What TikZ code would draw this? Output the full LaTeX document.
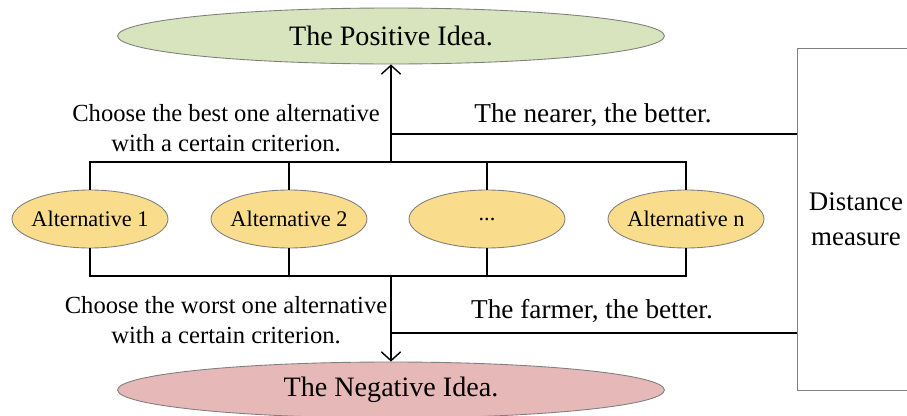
\documentclass[tikz,border=0pt]{standalone}
\usepackage{fontspec}
\setmainfont{Liberation Serif}
\usetikzlibrary{calc, shapes, arrows.meta}

\definecolor{posgreen}{HTML}{D7E4BD}
\definecolor{altyellow}{HTML}{FADD8C}
\definecolor{negpink}{HTML}{E6B9B8}
\definecolor{edgegrey}{HTML}{7F7F7F}

\begin{document}
\begin{tikzpicture}
  [
    x = 0.02cm, y = -0.02cm,
    line width = 0.8pt,
    every node/.style = {inner sep=0pt, font=\fontsize{14}{17}\selectfont},
    idea/.style = {ellipse, draw=edgegrey, line width=0.5pt,
                   minimum width=10.94cm, minimum height=1.12cm,
                   font=\fontsize{16}{19}\selectfont},
    alt/.style = {ellipse, draw=edgegrey, line width=0.5pt, fill=altyellow,
                  inner xsep=-3pt, minimum width=3.12cm, minimum height=1.16cm,
                  font=\fontsize{12.7}{15}\selectfont},
    label/.style = {align=center},
    rule/.style = {font=\fontsize{15.5}{18}\selectfont},
    link/.style = {-{Straight Barb[length=5pt, width=11pt, line width=0.8pt]}}
  ]
  \useasboundingbox (0,0) rectangle (907,416);

  % ideal solutions
  \node [idea, fill=posgreen] (Pos) at (391,36)  {The Positive Idea.};
  \node [idea, fill=negpink]  (Neg) at (391,390) {The Negative Idea.};

  % alternatives
  \node [alt] (Alt1) at (90,219)  {Alternative 1};
  \node [alt] (Alt2) at (289,219) {Alternative 2};
  \node [alt] (Alt3) at (487,219) {...};
  \node [alt] (Altn) at (686,219) {Alternative n};

  % distance box
  \node [draw=edgegrey, line width=0.5pt, align=center,
         minimum width=2.36cm, minimum height=6.84cm,
         font=\fontsize{15.3}{20}\selectfont] (Dist) at (856,219)
        {Distance\\measure};

  % buses
  \coordinate (Top) at (391,162);
  \coordinate (Bot) at (391,276);
  \draw (Alt1.north) |- (Altn.north |- Top) -- (Altn.north);
  \draw (Alt1.south) |- (Altn.south |- Bot) -- (Altn.south);
  \foreach \a in {Alt2, Alt3} {
    \draw (\a.north) -- (\a.north |- Top);
    \draw (\a.south) -- (\a.south |- Bot);
  }

  % choices
  \draw [link] (Top) -- (Pos.south);
  \draw [link] (Bot) -- (Neg.north);
  \coordinate (Near) at (391,134);
  \coordinate (Far)  at (391,333);
  \draw (Near) -- (Near -| Dist.west);
  \draw (Far)  -- (Far -| Dist.west);

  \node [label] (BestTxt)  at (226,128) {Choose the best one alternative\\with a certain criterion.};
  \node [label] (WorstTxt) at (226,320) {Choose the worst one alternative\\with a certain criterion.};
  \node [rule] (NearTxt) at (593,115) {The nearer, the better.};
  \node [rule] (FarTxt)  at (592,311) {The farmer, the better.};
\end{tikzpicture}
\end{document}
